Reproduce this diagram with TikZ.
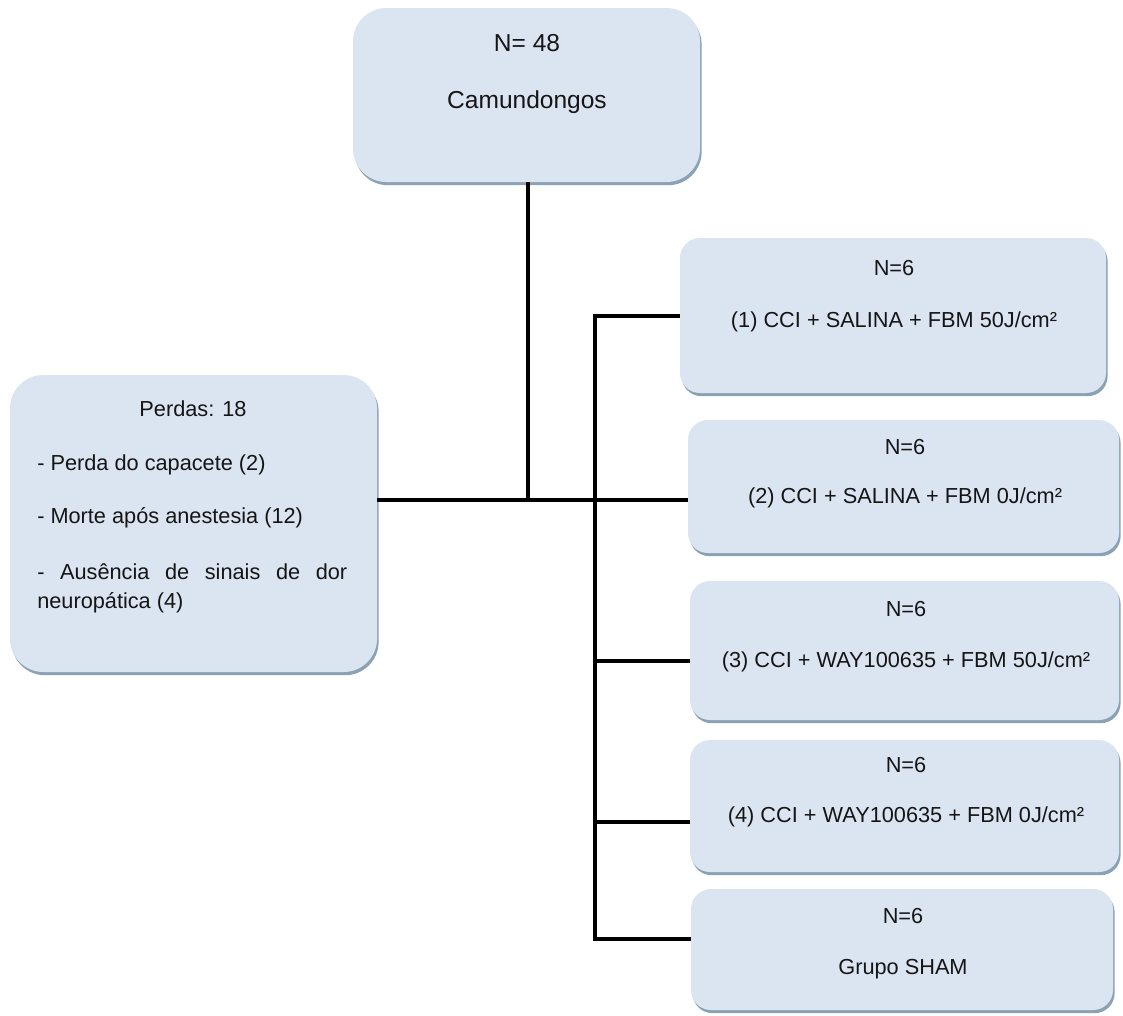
\documentclass[tikz,border=0pt]{standalone}
\usepackage{fontspec}
\setmainfont{Liberation Sans}
\usetikzlibrary{shadows,fit}
\definecolor{boxfill}{HTML}{DBE5F1}
\definecolor{boxshadow}{HTML}{8AA2B4}
\definecolor{txtc}{HTML}{151515}
\tikzset{
  box/.style={fill=boxfill, draw=none, inner sep=0pt,
    drop shadow={shadow xshift=1.2pt, shadow yshift=-2.4pt, fill=boxshadow, opacity=1}},
  bigbox/.style={box, rounded corners=25pt},
  smallbox/.style={box, rounded corners=15pt},
  txt/.style={inner sep=0pt, text=txtc, font=\fontsize{16.3pt}{19pt}\selectfont},
  bigtxt/.style={inner sep=0pt, text=txtc, font=\fontsize{18.4pt}{22pt}\selectfont},
  conn/.style={draw=black, line width=2.5pt}
}
\begin{document}
\begin{tikzpicture}[x=0.75pt,y=-0.75pt]
\useasboundingbox (0,0) rectangle (1123,1015);
% boxes
\node[bigbox, fit={(353,8)(700,182)}] (top) {};
\node[bigbox, fit={(10,375)(377,672)}] (left) {};
\node[smallbox, fit={(680,238)(1106,393)}] (b1) {};
\node[smallbox, fit={(688,420)(1119,553)}] (b2) {};
\node[smallbox, fit={(690,581)(1119,720)}] (b3) {};
\node[smallbox, fit={(690,740)(1119,872)}] (b4) {};
\node[smallbox, fit={(691,889)(1113,1010)}] (b5) {};
% texts
\node[bigtxt] (topN) at (527,43) {N= 48};
\node[bigtxt] (topT) at (527,102) {Camundongos};
\node[txt] (lT) at (193,409) {Perdas: 18};
\node[txt, anchor=west] (l1) at (37,465) {- Perda do capacete (2)};
\node[txt, anchor=west] (l2) at (37,518) {- Morte após anestesia (12)};
\node[txt, anchor=west] (l3) at (37,572) {\makebox[232.5pt][s]{- Ausência de sinais de dor}};
\node[txt, anchor=west] (l4) at (37,603) {neuropática (4)};
\node[txt] (b1N) at (894,268) {N=6};
\node[txt] (b1T) at (894,322) {(1) CCI + SALINA + FBM 50J/cm²};
\node[txt] (b2N) at (905,447) {N=6};
\node[txt] (b2T) at (905,498) {(2) CCI + SALINA + FBM 0J/cm²};
\node[txt] (b3N) at (906,609) {N=6};
\node[txt] (b3T) at (906,662) {(3) CCI + WAY100635 + FBM 50J/cm²};
\node[txt] (b4N) at (906,765) {N=6};
\node[txt] (b4T) at (906,817) {(4) CCI + WAY100635 + FBM 0J/cm²};
\node[txt] (b5N) at (903,916) {N=6};
\node[txt] (b5T) at (903,969) {Grupo SHAM};
% connectors
\coordinate (j1) at (528,500);
\coordinate (bt) at (595,316);
\coordinate (bb) at (595,939);
\coordinate (y3) at (595,661);
\coordinate (y4) at (595,822);
\draw[conn] (top.south -| j1) -- (j1);
\draw[conn] (left.east |- j1) -- (b2.west |- j1);
\draw[conn] (b1.west |- bt) -- (bt) -- (bb) -- (b5.west |- bb);
\draw[conn] (y3) -- (b3.west |- y3);
\draw[conn] (y4) -- (b4.west |- y4);
\end{tikzpicture}
\end{document}
